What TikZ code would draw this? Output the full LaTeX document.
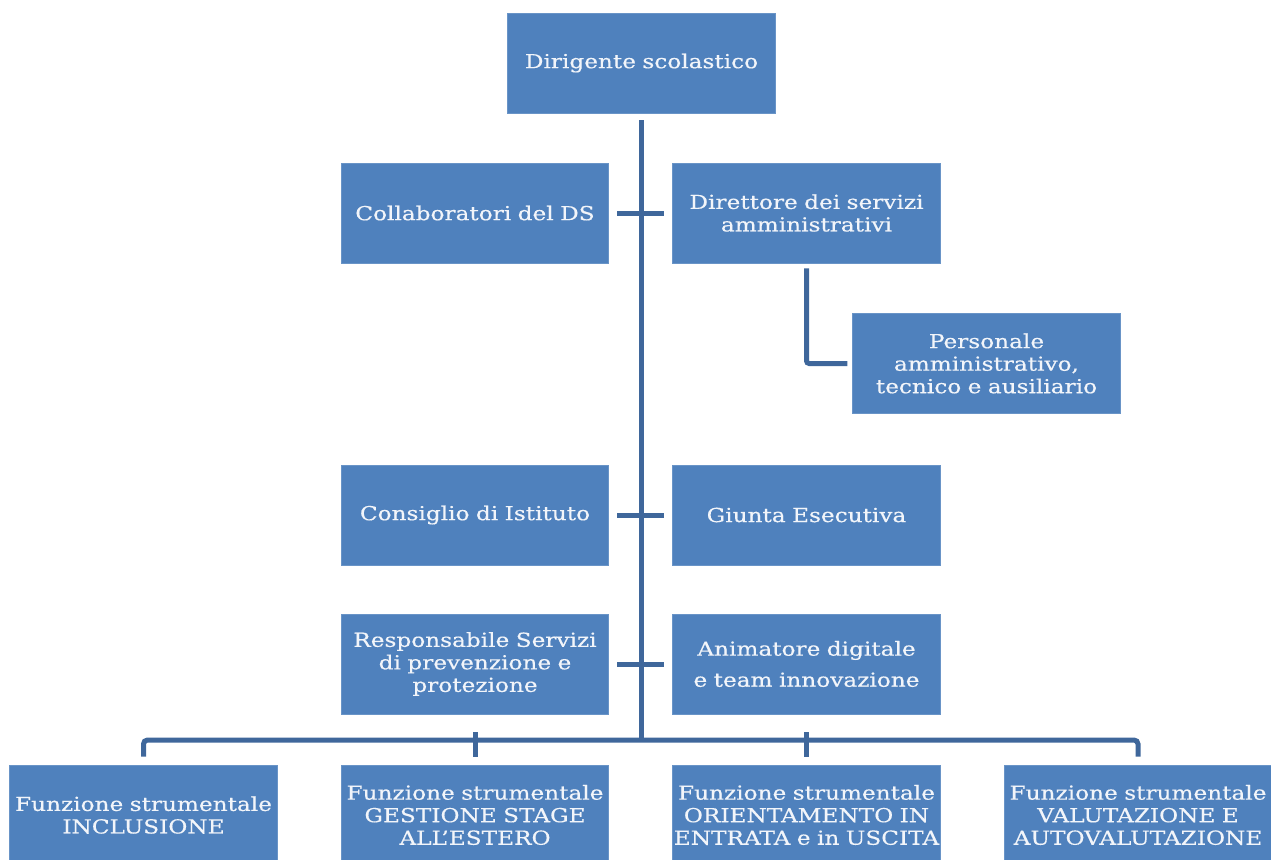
\documentclass[tikz,border=0pt]{standalone}
\usepackage{fontspec}
\setmainfont{DejaVu Serif}[FakeStretch=1.2,FakeBold=0.4]
\usetikzlibrary{calc}
\definecolor{boxblue}{RGB}{79,129,189}
\definecolor{linkblue}{RGB}{63,103,155}
\definecolor{boxtext}{RGB}{242,245,250}
\tikzset{
  orgbox/.style={fill=boxblue, draw=boxblue!85!white, line width=0.6pt, text=boxtext,
    minimum width=200.5pt, minimum height=75pt, inner sep=0pt, text width=199.5pt,
    align=center, font=\fontsize{14.5}{16.9}\selectfont},
  conn/.style={draw=linkblue, line width=3.75pt}
}
\begin{document}
\begin{tikzpicture}[x=0.75pt,y=-0.75pt]
\useasboundingbox (0,0) rectangle (1271,860);
\clip (0,0) rectangle (1271,860);
% boxes
\node[orgbox] (ds) at (641.5,63) {Dirigente scolastico};
\node[orgbox] (collab) at (475,213) {Collaboratori del DS};
\node[orgbox] (dsga) at (806.5,213) {Direttore dei servizi\\amministrativi};
\node[orgbox] (ata) at (986.5,363.5) {Personale\\amministrativo,\\tecnico e ausiliario};
\node[orgbox] (ci) at (475,515) {Consiglio di Istituto};
\node[orgbox] (ge) at (806.5,515) {Giunta Esecutiva};
\node[orgbox] (rspp) at (475,664) {Responsabile Servizi\\di prevenzione e\\protezione};
\node[orgbox] (anim) at (806.5,664) {Animatore digitale\\[6.4pt]e team innovazione};
\node[orgbox] (f1) at (143.5,815) {Funzione strumentale\\INCLUSIONE};
\node[orgbox] (f2) at (475,815) {Funzione strumentale\\GESTIONE STAGE\\ALL'ESTERO};
\node[orgbox] (f3) at (806.5,815) {Funzione strumentale\\ORIENTAMENTO IN\\ENTRATA e in USCITA};
\node[orgbox] (f4) at (1138,815) {Funzione strumentale\\VALUTAZIONE E\\AUTOVALUTAZIONE};
% trunk
\coordinate (bus) at (641.5,740);
\draw[conn] ([yshift=-5.25pt]ds.south) -- (bus);
% ticks
\draw[conn] ([xshift=6pt]collab.east) -- ([xshift=-6pt]dsga.west);
\draw[conn] ([xshift=6pt]ci.east) -- ([xshift=-6pt]ge.west);
\draw[conn] ([xshift=6pt]rspp.east) -- ([xshift=-6pt]anim.west);
% dsga to ata
\draw[conn, rounded corners=2pt] ([yshift=-3.75pt]dsga.south) |- ([xshift=-3.75pt]ata.west);
% bottom bus
\draw[conn, rounded corners=3pt] ([yshift=6pt]f1.north) |- (bus) -| ([yshift=6pt]f4.north);
\draw[conn] ([yshift=6pt]f2.north) -- ([yshift=6pt]f2.north |- bus);
\draw[conn] ([yshift=6pt]f3.north) -- ([yshift=6pt]f3.north |- bus);
\end{tikzpicture}
\end{document}
